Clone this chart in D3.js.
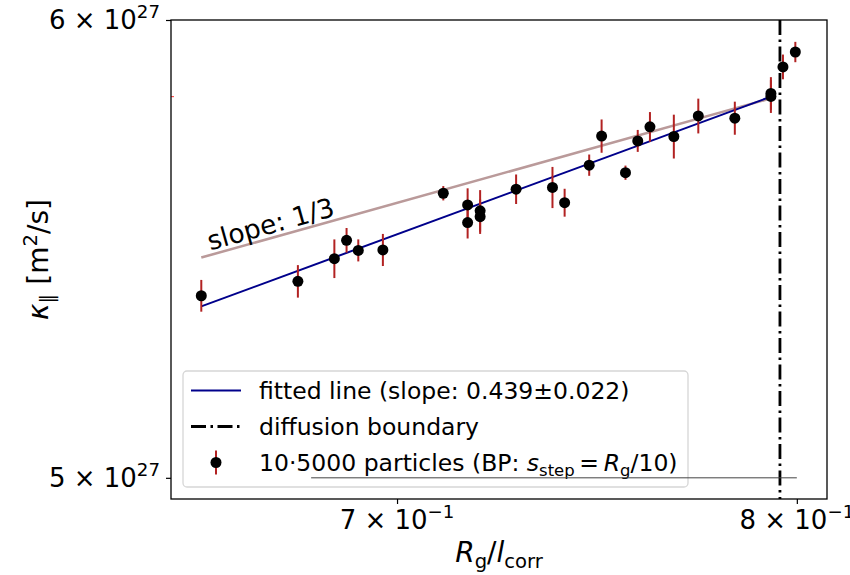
<!DOCTYPE html>
<html>
<head>
<meta charset="utf-8">
<script src="https://cdn.jsdelivr.net/npm/d3@7"></script>
<style>
  html, body { margin: 0; padding: 0; background: #fff; }
  svg { display: block; font-family: "DejaVu Sans", sans-serif; }
</style>
</head>
<body>
<svg id="chart" width="850" height="575"></svg>
<script>
// R_g / l_corr for each simulation run
const ratio = [0.6557, 0.6772, 0.6855, 0.6883, 0.6910, 0.6967, 0.7109, 0.7167, 0.7167, 0.7197,
               0.7197, 0.7284, 0.7373, 0.7403, 0.7464, 0.7495, 0.7555, 0.7586, 0.7617, 0.7678,
               0.7741, 0.7836, 0.7931, 0.7931, 0.7963, 0.7996];
// parallel diffusion coefficient, units of 1e27 m^2/s
const kappa = [5.376, 5.407, 5.456, 5.496, 5.474, 5.475, 5.600, 5.574, 5.535, 5.561,
               5.548, 5.609, 5.613, 5.579, 5.663, 5.729, 5.646, 5.718, 5.750, 5.728,
               5.775, 5.770, 5.827, 5.820, 5.889, 5.924];
// standard error of kappa, units of 1e27 m^2/s
const kappaErr = [0.034, 0.035, 0.042, 0.027, 0.024, 0.035, 0.016, 0.037, 0.035, 0.046,
                  0.038, 0.033, 0.046, 0.031, 0.024, 0.038, 0.016, 0.025, 0.034, 0.050,
                  0.040, 0.038, 0.038, 0.038, 0.029, 0.024];

// power-law fit kappa = A * x^slope over the diffusive range
const fitSlope = 0.439;
const fitSlopeErr = 0.022;
const fitAmp = 6.443;            // 1e27 m^2/s
const fitRange = [0.6557, 0.7931];
// reference power law with slope 1/3
const refSlope = 1 / 3;
const refAmp = 6.283;            // 1e27 m^2/s
const refLabel = "slope: 1/3";
// diffusion boundary position
const boundaryX = 0.7955;
// horizontal guide at kappa = 5e27
const guideY = 5.0;
const guideX = [0.6802, 0.8];

const xTicks = [{v: 0.7, m: "7", e: "\u22121"}, {v: 0.8, m: "8", e: "\u22121"}];
const yTicks = [{v: 5.0, m: "5", e: "27"}, {v: 6.0, m: "6", e: "27"}];

const E = 1e27;
const svg = d3.select("#chart");
const L = 171, R = 827, T = 20, B = 499;

const x = d3.scaleLog().domain([0.6491, 0.8081]).range([L, R]);
const y = d3.scaleLog().domain([4.958 * E, 6.0 * E]).range([B, T]);

const tickFont = 26;

// axes with manually formatted scientific labels
const xAxis = svg.append("g").attr("transform", `translate(0,${B})`)
  .call(d3.axisBottom(x).tickValues(xTicks.map(d => d.v)).tickSize(5).tickFormat(""));
const yAxis = svg.append("g").attr("transform", `translate(${L},0)`)
  .call(d3.axisLeft(y).tickValues(yTicks.map(d => d.v * E)).tickSize(5).tickFormat(""));
[xAxis, yAxis].forEach(g => {
  g.select(".domain").remove();
  g.selectAll(".tick line").attr("stroke", "#000").attr("stroke-width", 1.2);
});

function sciLabel(sel, t) {
  sel.append("tspan").text(t.m + " \u00d7 10");
  sel.append("tspan").attr("dy", -11).attr("font-size", tickFont * 0.7).text(t.e);
}
xTicks.forEach(t => {
  const tx = svg.append("text").attr("x", x(t.v)).attr("y", 529)
    .attr("text-anchor", "middle").attr("font-size", tickFont).attr("fill", "#000");
  sciLabel(tx, t);
});
yTicks.forEach(t => {
  const tx = svg.append("text").attr("x", 160).attr("y", y(t.v * E) + 9)
    .attr("text-anchor", "end").attr("font-size", tickFont).attr("fill", "#000");
  sciLabel(tx, t);
});

// reference slope 1/3 line
const refLine = d3.line().x(d => x(d)).y(d => y(refAmp * Math.pow(d, refSlope) * E));
svg.append("path").datum(fitRange).attr("d", refLine)
  .attr("fill", "none").attr("stroke", "rgb(186,154,154)").attr("stroke-width", 2.6);

// fitted power-law line
const fitLine = d3.line().x(d => x(d)).y(d => y(fitAmp * Math.pow(d, fitSlope) * E));
svg.append("path").datum(fitRange).attr("d", fitLine)
  .attr("fill", "none").attr("stroke", "#00008b").attr("stroke-width", 2);

// label on the reference line
{
  const x0 = fitRange[0];
  const px = x(x0) + 9, py = y(refAmp * Math.pow(x0, refSlope) * E) - 7;
  const ang = -Math.atan2(
    y(refAmp * Math.pow(x0, refSlope) * E) - y(refAmp * Math.pow(fitRange[1], refSlope) * E),
    x(fitRange[1]) - x(x0)) * 180 / Math.PI;
  svg.append("text").attr("transform", `translate(${px},${py}) rotate(${ang})`)
    .attr("font-size", 26.5).attr("fill", "#000").text(refLabel);
}

// diffusion boundary
svg.append("line")
  .attr("x1", x(boundaryX)).attr("x2", x(boundaryX)).attr("y1", T).attr("y2", B)
  .attr("stroke", "#000").attr("stroke-width", 2.8).attr("stroke-dasharray", "15,4.5,2.5,4.5");

// error bars and points
const pts = ratio.map((r, i) => ({r, k: kappa[i], e: kappaErr[i]}));
svg.append("g").selectAll("line").data(pts).join("line")
  .attr("x1", d => x(d.r)).attr("x2", d => x(d.r))
  .attr("y1", d => y((d.k - d.e) * E)).attr("y2", d => y((d.k + d.e) * E))
  .attr("stroke", "#b22222").attr("stroke-width", 2);
svg.append("g").selectAll("circle").data(pts).join("circle")
  .attr("cx", d => x(d.r)).attr("cy", d => y(d.k * E)).attr("r", 5.5).attr("fill", "#000");

// legend
const lg = svg.append("g");
lg.append("rect").attr("x", 183).attr("y", 371).attr("width", 505).attr("height", 116)
  .attr("rx", 4).attr("fill", "#fff").attr("fill-opacity", 0.8)
  .attr("stroke", "#d6d6d6").attr("stroke-width", 1.3);
const lf = 23.5, tx0 = 259;
const rows = [390.5, 426.5, 462.5];
lg.append("line").attr("x1", 191).attr("x2", 241).attr("y1", rows[0]).attr("y2", rows[0])
  .attr("stroke", "#00008b").attr("stroke-width", 2);
lg.append("text").attr("x", tx0).attr("y", rows[0] + 8.5).attr("font-size", lf)
  .text(`fitted line (slope: ${fitSlope.toFixed(3)}\u00b1${fitSlopeErr.toFixed(3)})`);
lg.append("line").attr("x1", 191).attr("x2", 241).attr("y1", rows[1]).attr("y2", rows[1])
  .attr("stroke", "#000").attr("stroke-width", 2.8).attr("stroke-dasharray", "15,4.5,2.5,4.5");
lg.append("text").attr("x", tx0).attr("y", rows[1] + 8.5).attr("font-size", lf)
  .text("diffusion boundary");
lg.append("line").attr("x1", 216).attr("x2", 216).attr("y1", rows[2] - 12).attr("y2", rows[2] + 12)
  .attr("stroke", "#b22222").attr("stroke-width", 2);
lg.append("circle").attr("cx", 216).attr("cy", rows[2]).attr("r", 5.5).attr("fill", "#000");
{
  const t = lg.append("text").attr("x", tx0).attr("y", rows[2] + 8.5).attr("font-size", lf);
  t.append("tspan").text("10\u00b75000 particles (BP: ");
  t.append("tspan").attr("font-style", "italic").text("s");
  t.append("tspan").attr("font-size", lf * 0.7).attr("dy", 5).text("step");
  t.append("tspan").attr("dy", -5).text("\u2009=\u2009");
  t.append("tspan").attr("font-style", "italic").text("R");
  t.append("tspan").attr("font-size", lf * 0.7).attr("dy", 5).text("g");
  t.append("tspan").attr("dy", -5).text("/10)");
}

// horizontal guide at 5e27
svg.append("line").attr("x1", x(guideX[0])).attr("x2", x(guideX[1]))
  .attr("y1", y(guideY * E)).attr("y2", y(guideY * E))
  .attr("stroke", "#444").attr("stroke-width", 1);

// small marker on the left spine at the fit end value
svg.append("line").attr("x1", L).attr("x2", L + 3)
  .attr("y1", y(fitAmp * Math.pow(fitRange[1], fitSlope) * E))
  .attr("y2", y(fitAmp * Math.pow(fitRange[1], fitSlope) * E))
  .attr("stroke", "#ff3030").attr("stroke-width", 1);

// frame
svg.append("rect").attr("x", L).attr("y", T).attr("width", R - L).attr("height", B - T)
  .attr("fill", "none").attr("stroke", "#000").attr("stroke-width", 1.3);

// axis labels
{
  const xl = svg.append("text").attr("x", (L + R) / 2).attr("y", 562)
    .attr("text-anchor", "middle").attr("font-size", 28);
  xl.append("tspan").attr("font-style", "italic").text("R");
  xl.append("tspan").attr("font-size", 28 * 0.7).attr("dy", 6).text("g");
  xl.append("tspan").attr("dy", -6).text("/");
  xl.append("tspan").attr("font-style", "italic").text("l");
  xl.append("tspan").attr("font-size", 28 * 0.7).attr("dy", 6).text("corr");

  const yl = svg.append("text")
    .attr("transform", `translate(48,${(T + B) / 2}) rotate(-90)`)
    .attr("text-anchor", "middle").attr("font-size", 28);
  yl.append("tspan").attr("font-style", "italic").text("\u03ba");
  yl.append("tspan").attr("font-size", 28 * 0.7).attr("dy", 6).text("\u2225");
  yl.append("tspan").attr("dy", -6).text("  [m");
  yl.append("tspan").attr("font-size", 28 * 0.7).attr("dy", -11).text("2");
  yl.append("tspan").attr("dy", 11).text("/s]");
}
</script>
</body>
</html>
